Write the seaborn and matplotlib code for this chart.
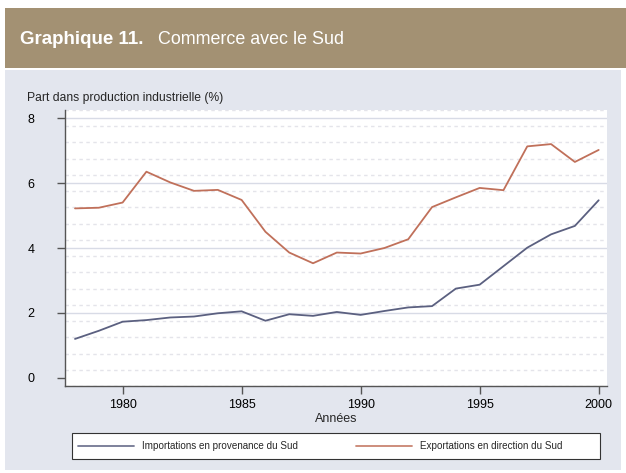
import numpy as np
import pandas as pd
import seaborn as sns

import matplotlib
matplotlib.use('Agg')
import matplotlib.pyplot as plt
from matplotlib.patches import Rectangle

# Data
years = list(range(1978, 2001))
imports_sud = [1.20, 1.45, 1.73, 1.78, 1.86, 1.89, 1.99, 2.05, 1.76, 1.96, 1.91, 2.03,
               1.94, 2.06, 2.17, 2.21, 2.75, 2.87, 3.44, 4.01, 4.42, 4.68, 5.47]
exports_sud = [5.22, 5.24, 5.40, 6.35, 6.02, 5.76, 5.79, 5.48, 4.50, 3.86, 3.53, 3.86,
               3.83, 4.00, 4.27, 5.26, 5.56, 5.85, 5.78, 7.13, 7.20, 6.65, 7.02]
series_names = ["Importations en provenance du Sud", "Exportations en direction du Sud"]
colors = ["#5b6080", "#c0705a"]
y_ticks = [0, 2, 4, 6, 8]
x_ticks = [1980, 1985, 1990, 1995, 2000]

df = pd.DataFrame({
    "Années": years * 2,
    "valeur": imports_sud + exports_sud,
    "serie": [series_names[0]] * len(years) + [series_names[1]] * len(years),
})

sns.set_style("white")
plt.rcParams['font.family'] = ['Liberation Sans', 'DejaVu Sans']

W, H = 626, 473
fig = plt.figure(figsize=(W / 100, H / 100), dpi=100)

# title band and grey panel
fig.patches.append(Rectangle((5 / W, 1 - 68 / H), 621 / W, 60 / H, transform=fig.transFigure,
                             facecolor="#a39173", edgecolor="none", zorder=0))
fig.patches.append(Rectangle((5 / W, 1 - 470 / H), 616 / W, 400 / H, transform=fig.transFigure,
                             facecolor="#e3e6ee", edgecolor="none", zorder=0))
fig.text(20 / W, 1 - 44 / H, "Graphique 11.", color="white", fontsize=13.5, fontweight="bold",
         va="baseline")
fig.text(158 / W, 1 - 44 / H, "Commerce avec le Sud", color="white", fontsize=12.9, va="baseline")

ax = fig.add_axes([65 / W, 1 - 386 / H, 542 / W, 276 / H])
ax.set_zorder(2)
ax.set_facecolor("white")

# faint patterned rows and solid grid lines
for yy in np.arange(-0.25, 8.3, 0.5):
    ax.axhline(yy, color="#e4e4ea", lw=1.0, ls=(0, (2.5, 2.5)), zorder=0)
for yy in y_ticks[1:]:
    ax.axhline(yy, color="#d8dbe6", lw=1.0, zorder=1)

sns.lineplot(data=df, x="Années", y="valeur", hue="serie",
             palette=colors, linewidth=1.3, ax=ax, legend=False, zorder=3)

ax.set_xlim(1977.58, 2000.35)
ax.set_ylim(-0.25, 8.25)
ax.set_xticks(x_ticks)
ax.set_yticks(y_ticks)
ax.tick_params(axis="both", direction="out", length=6, width=1, color="#555555",
               labelsize=9, labelcolor="black", bottom=True, left=True)
ax.tick_params(axis="y", pad=16)
ax.set_xlabel("Années", fontsize=9, labelpad=1)
ax.set_ylabel("")
for s in ["top", "right"]:
    ax.spines[s].set_visible(False)
for s in ["left", "bottom"]:
    ax.spines[s].set_color("#555555")
    ax.spines[s].set_linewidth(1.0)

fig.text(27 / W, 1 - 101 / H, "Part dans production industrielle (%)", fontsize=8.7, va="baseline")

# legend box with one entry on each side
fig.patches.append(Rectangle((72 / W, 1 - 459 / H), 528 / W, 26 / H, transform=fig.transFigure,
                             facecolor="white", edgecolor="#333333", lw=0.8, zorder=1))
for name, col, x0 in zip(series_names, colors, [78, 356]):
    h = plt.Line2D([], [], color=col, lw=1.3, alpha=0.85)
    fig.legend([h], [name], loc="center left", bbox_to_anchor=(x0 / W, 1 - 446 / H),
               fontsize=7.1, frameon=False, handlelength=5.7, handletextpad=0.8,
               borderpad=0, borderaxespad=0)

fig.savefig("out.png", dpi=100)
